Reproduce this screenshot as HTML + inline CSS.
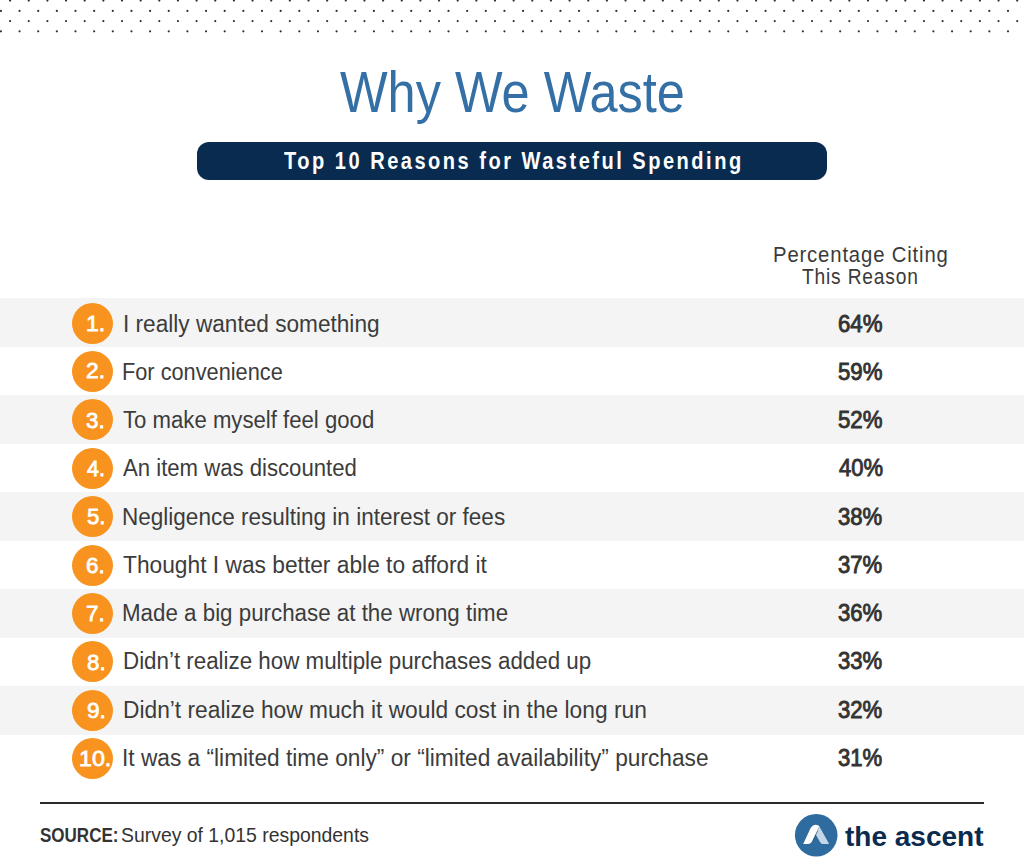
<!DOCTYPE html>
<html><head><meta charset="utf-8"><style>
*{margin:0;padding:0;box-sizing:border-box}
html,body{width:1024px;height:868px;background:#fff;overflow:hidden}
body{position:relative;font-family:"Liberation Sans",sans-serif}
.t{position:absolute;white-space:nowrap;transform-origin:0 0}
.band{position:absolute;left:0;width:1024px;background:#f4f4f4}
.circ{position:absolute;border-radius:50%;background:#f7931e}
#bar{position:absolute;left:196.6px;top:141.7px;width:630.3px;height:38.3px;border-radius:12px;background:#0a2b50}
#line{position:absolute;left:40px;top:802.2px;width:944px;height:1.7px;background:#2b2b2b}
</style></head><body>
<svg style="position:absolute;left:0;top:0" width="1024" height="40" fill="#333"><circle cx="10.10" cy="0.6" r="1.1"/><circle cx="28.75" cy="0.6" r="1.1"/><circle cx="47.40" cy="0.6" r="1.1"/><circle cx="66.05" cy="0.6" r="1.1"/><circle cx="84.70" cy="0.6" r="1.1"/><circle cx="103.35" cy="0.6" r="1.1"/><circle cx="122.00" cy="0.6" r="1.1"/><circle cx="140.65" cy="0.6" r="1.1"/><circle cx="159.30" cy="0.6" r="1.1"/><circle cx="177.95" cy="0.6" r="1.1"/><circle cx="196.60" cy="0.6" r="1.1"/><circle cx="215.25" cy="0.6" r="1.1"/><circle cx="233.90" cy="0.6" r="1.1"/><circle cx="252.55" cy="0.6" r="1.1"/><circle cx="271.20" cy="0.6" r="1.1"/><circle cx="289.85" cy="0.6" r="1.1"/><circle cx="308.50" cy="0.6" r="1.1"/><circle cx="327.15" cy="0.6" r="1.1"/><circle cx="345.80" cy="0.6" r="1.1"/><circle cx="364.45" cy="0.6" r="1.1"/><circle cx="383.10" cy="0.6" r="1.1"/><circle cx="401.75" cy="0.6" r="1.1"/><circle cx="420.40" cy="0.6" r="1.1"/><circle cx="439.05" cy="0.6" r="1.1"/><circle cx="457.70" cy="0.6" r="1.1"/><circle cx="476.35" cy="0.6" r="1.1"/><circle cx="495.00" cy="0.6" r="1.1"/><circle cx="513.65" cy="0.6" r="1.1"/><circle cx="532.30" cy="0.6" r="1.1"/><circle cx="550.95" cy="0.6" r="1.1"/><circle cx="569.60" cy="0.6" r="1.1"/><circle cx="588.25" cy="0.6" r="1.1"/><circle cx="606.90" cy="0.6" r="1.1"/><circle cx="625.55" cy="0.6" r="1.1"/><circle cx="644.20" cy="0.6" r="1.1"/><circle cx="662.85" cy="0.6" r="1.1"/><circle cx="681.50" cy="0.6" r="1.1"/><circle cx="700.15" cy="0.6" r="1.1"/><circle cx="718.80" cy="0.6" r="1.1"/><circle cx="737.45" cy="0.6" r="1.1"/><circle cx="756.10" cy="0.6" r="1.1"/><circle cx="774.75" cy="0.6" r="1.1"/><circle cx="793.40" cy="0.6" r="1.1"/><circle cx="812.05" cy="0.6" r="1.1"/><circle cx="830.70" cy="0.6" r="1.1"/><circle cx="849.35" cy="0.6" r="1.1"/><circle cx="868.00" cy="0.6" r="1.1"/><circle cx="886.65" cy="0.6" r="1.1"/><circle cx="905.30" cy="0.6" r="1.1"/><circle cx="923.95" cy="0.6" r="1.1"/><circle cx="942.60" cy="0.6" r="1.1"/><circle cx="961.25" cy="0.6" r="1.1"/><circle cx="979.90" cy="0.6" r="1.1"/><circle cx="998.55" cy="0.6" r="1.1"/><circle cx="1017.20" cy="0.6" r="1.1"/><circle cx="0.90" cy="10.9" r="1.1"/><circle cx="19.55" cy="10.9" r="1.1"/><circle cx="38.20" cy="10.9" r="1.1"/><circle cx="56.85" cy="10.9" r="1.1"/><circle cx="75.50" cy="10.9" r="1.1"/><circle cx="94.15" cy="10.9" r="1.1"/><circle cx="112.80" cy="10.9" r="1.1"/><circle cx="131.45" cy="10.9" r="1.1"/><circle cx="150.10" cy="10.9" r="1.1"/><circle cx="168.75" cy="10.9" r="1.1"/><circle cx="187.40" cy="10.9" r="1.1"/><circle cx="206.05" cy="10.9" r="1.1"/><circle cx="224.70" cy="10.9" r="1.1"/><circle cx="243.35" cy="10.9" r="1.1"/><circle cx="262.00" cy="10.9" r="1.1"/><circle cx="280.65" cy="10.9" r="1.1"/><circle cx="299.30" cy="10.9" r="1.1"/><circle cx="317.95" cy="10.9" r="1.1"/><circle cx="336.60" cy="10.9" r="1.1"/><circle cx="355.25" cy="10.9" r="1.1"/><circle cx="373.90" cy="10.9" r="1.1"/><circle cx="392.55" cy="10.9" r="1.1"/><circle cx="411.20" cy="10.9" r="1.1"/><circle cx="429.85" cy="10.9" r="1.1"/><circle cx="448.50" cy="10.9" r="1.1"/><circle cx="467.15" cy="10.9" r="1.1"/><circle cx="485.80" cy="10.9" r="1.1"/><circle cx="504.45" cy="10.9" r="1.1"/><circle cx="523.10" cy="10.9" r="1.1"/><circle cx="541.75" cy="10.9" r="1.1"/><circle cx="560.40" cy="10.9" r="1.1"/><circle cx="579.05" cy="10.9" r="1.1"/><circle cx="597.70" cy="10.9" r="1.1"/><circle cx="616.35" cy="10.9" r="1.1"/><circle cx="635.00" cy="10.9" r="1.1"/><circle cx="653.65" cy="10.9" r="1.1"/><circle cx="672.30" cy="10.9" r="1.1"/><circle cx="690.95" cy="10.9" r="1.1"/><circle cx="709.60" cy="10.9" r="1.1"/><circle cx="728.25" cy="10.9" r="1.1"/><circle cx="746.90" cy="10.9" r="1.1"/><circle cx="765.55" cy="10.9" r="1.1"/><circle cx="784.20" cy="10.9" r="1.1"/><circle cx="802.85" cy="10.9" r="1.1"/><circle cx="821.50" cy="10.9" r="1.1"/><circle cx="840.15" cy="10.9" r="1.1"/><circle cx="858.80" cy="10.9" r="1.1"/><circle cx="877.45" cy="10.9" r="1.1"/><circle cx="896.10" cy="10.9" r="1.1"/><circle cx="914.75" cy="10.9" r="1.1"/><circle cx="933.40" cy="10.9" r="1.1"/><circle cx="952.05" cy="10.9" r="1.1"/><circle cx="970.70" cy="10.9" r="1.1"/><circle cx="989.35" cy="10.9" r="1.1"/><circle cx="1008.00" cy="10.9" r="1.1"/><circle cx="10.10" cy="21.1" r="1.1"/><circle cx="28.75" cy="21.1" r="1.1"/><circle cx="47.40" cy="21.1" r="1.1"/><circle cx="66.05" cy="21.1" r="1.1"/><circle cx="84.70" cy="21.1" r="1.1"/><circle cx="103.35" cy="21.1" r="1.1"/><circle cx="122.00" cy="21.1" r="1.1"/><circle cx="140.65" cy="21.1" r="1.1"/><circle cx="159.30" cy="21.1" r="1.1"/><circle cx="177.95" cy="21.1" r="1.1"/><circle cx="196.60" cy="21.1" r="1.1"/><circle cx="215.25" cy="21.1" r="1.1"/><circle cx="233.90" cy="21.1" r="1.1"/><circle cx="252.55" cy="21.1" r="1.1"/><circle cx="271.20" cy="21.1" r="1.1"/><circle cx="289.85" cy="21.1" r="1.1"/><circle cx="308.50" cy="21.1" r="1.1"/><circle cx="327.15" cy="21.1" r="1.1"/><circle cx="345.80" cy="21.1" r="1.1"/><circle cx="364.45" cy="21.1" r="1.1"/><circle cx="383.10" cy="21.1" r="1.1"/><circle cx="401.75" cy="21.1" r="1.1"/><circle cx="420.40" cy="21.1" r="1.1"/><circle cx="439.05" cy="21.1" r="1.1"/><circle cx="457.70" cy="21.1" r="1.1"/><circle cx="476.35" cy="21.1" r="1.1"/><circle cx="495.00" cy="21.1" r="1.1"/><circle cx="513.65" cy="21.1" r="1.1"/><circle cx="532.30" cy="21.1" r="1.1"/><circle cx="550.95" cy="21.1" r="1.1"/><circle cx="569.60" cy="21.1" r="1.1"/><circle cx="588.25" cy="21.1" r="1.1"/><circle cx="606.90" cy="21.1" r="1.1"/><circle cx="625.55" cy="21.1" r="1.1"/><circle cx="644.20" cy="21.1" r="1.1"/><circle cx="662.85" cy="21.1" r="1.1"/><circle cx="681.50" cy="21.1" r="1.1"/><circle cx="700.15" cy="21.1" r="1.1"/><circle cx="718.80" cy="21.1" r="1.1"/><circle cx="737.45" cy="21.1" r="1.1"/><circle cx="756.10" cy="21.1" r="1.1"/><circle cx="774.75" cy="21.1" r="1.1"/><circle cx="793.40" cy="21.1" r="1.1"/><circle cx="812.05" cy="21.1" r="1.1"/><circle cx="830.70" cy="21.1" r="1.1"/><circle cx="849.35" cy="21.1" r="1.1"/><circle cx="868.00" cy="21.1" r="1.1"/><circle cx="886.65" cy="21.1" r="1.1"/><circle cx="905.30" cy="21.1" r="1.1"/><circle cx="923.95" cy="21.1" r="1.1"/><circle cx="942.60" cy="21.1" r="1.1"/><circle cx="961.25" cy="21.1" r="1.1"/><circle cx="979.90" cy="21.1" r="1.1"/><circle cx="998.55" cy="21.1" r="1.1"/><circle cx="1017.20" cy="21.1" r="1.1"/><circle cx="0.90" cy="31.3" r="1.1"/><circle cx="19.55" cy="31.3" r="1.1"/><circle cx="38.20" cy="31.3" r="1.1"/><circle cx="56.85" cy="31.3" r="1.1"/><circle cx="75.50" cy="31.3" r="1.1"/><circle cx="94.15" cy="31.3" r="1.1"/><circle cx="112.80" cy="31.3" r="1.1"/><circle cx="131.45" cy="31.3" r="1.1"/><circle cx="150.10" cy="31.3" r="1.1"/><circle cx="168.75" cy="31.3" r="1.1"/><circle cx="187.40" cy="31.3" r="1.1"/><circle cx="206.05" cy="31.3" r="1.1"/><circle cx="224.70" cy="31.3" r="1.1"/><circle cx="243.35" cy="31.3" r="1.1"/><circle cx="262.00" cy="31.3" r="1.1"/><circle cx="280.65" cy="31.3" r="1.1"/><circle cx="299.30" cy="31.3" r="1.1"/><circle cx="317.95" cy="31.3" r="1.1"/><circle cx="336.60" cy="31.3" r="1.1"/><circle cx="355.25" cy="31.3" r="1.1"/><circle cx="373.90" cy="31.3" r="1.1"/><circle cx="392.55" cy="31.3" r="1.1"/><circle cx="411.20" cy="31.3" r="1.1"/><circle cx="429.85" cy="31.3" r="1.1"/><circle cx="448.50" cy="31.3" r="1.1"/><circle cx="467.15" cy="31.3" r="1.1"/><circle cx="485.80" cy="31.3" r="1.1"/><circle cx="504.45" cy="31.3" r="1.1"/><circle cx="523.10" cy="31.3" r="1.1"/><circle cx="541.75" cy="31.3" r="1.1"/><circle cx="560.40" cy="31.3" r="1.1"/><circle cx="579.05" cy="31.3" r="1.1"/><circle cx="597.70" cy="31.3" r="1.1"/><circle cx="616.35" cy="31.3" r="1.1"/><circle cx="635.00" cy="31.3" r="1.1"/><circle cx="653.65" cy="31.3" r="1.1"/><circle cx="672.30" cy="31.3" r="1.1"/><circle cx="690.95" cy="31.3" r="1.1"/><circle cx="709.60" cy="31.3" r="1.1"/><circle cx="728.25" cy="31.3" r="1.1"/><circle cx="746.90" cy="31.3" r="1.1"/><circle cx="765.55" cy="31.3" r="1.1"/><circle cx="784.20" cy="31.3" r="1.1"/><circle cx="802.85" cy="31.3" r="1.1"/><circle cx="821.50" cy="31.3" r="1.1"/><circle cx="840.15" cy="31.3" r="1.1"/><circle cx="858.80" cy="31.3" r="1.1"/><circle cx="877.45" cy="31.3" r="1.1"/><circle cx="896.10" cy="31.3" r="1.1"/><circle cx="914.75" cy="31.3" r="1.1"/><circle cx="933.40" cy="31.3" r="1.1"/><circle cx="952.05" cy="31.3" r="1.1"/><circle cx="970.70" cy="31.3" r="1.1"/><circle cx="989.35" cy="31.3" r="1.1"/><circle cx="1008.00" cy="31.3" r="1.1"/></svg>
<div id="bar"></div>
<div class="band" style="top:297.70px;height:48.9px"></div><div class="circ" style="left:72.4px;top:302.70px;width:41px;height:41px"></div><div class="circ" style="left:72.4px;top:351.09px;width:41px;height:41px"></div><div class="band" style="top:394.78px;height:48.9px"></div><div class="circ" style="left:72.4px;top:399.48px;width:41px;height:41px"></div><div class="circ" style="left:72.4px;top:447.87px;width:41px;height:41px"></div><div class="band" style="top:491.86px;height:48.9px"></div><div class="circ" style="left:72.4px;top:496.26px;width:41px;height:41px"></div><div class="circ" style="left:72.4px;top:544.65px;width:41px;height:41px"></div><div class="band" style="top:588.94px;height:48.9px"></div><div class="circ" style="left:72.4px;top:593.04px;width:41px;height:41px"></div><div class="circ" style="left:72.4px;top:641.43px;width:41px;height:41px"></div><div class="band" style="top:686.02px;height:48.9px"></div><div class="circ" style="left:72.4px;top:689.82px;width:41px;height:41px"></div><div class="circ" style="left:72.4px;top:738.21px;width:41px;height:41px"></div>
<div id="line"></div>
<svg style="position:absolute;left:792px;top:810px" width="50" height="50" viewBox="0 0 50 50">
<circle cx="24.2" cy="25.2" r="21.3" fill="#2e6ca0"/>
<path d="M27.4 16.4 L36.9 33.4 Q37 34.1 36.2 34.1 L31.2 34.1 Q29.3 34.1 28.3 32.4 L23.8 24.4 Z" fill="#c5d7e6"/>
<path d="M25.6 20.8 L20.3 31.8" stroke="#15324f" stroke-width="1" opacity="0.55" fill="none"/>
<path d="M11.2 33.9 L18.4 18.6 Q20.2 14.8 24 14.7 Q26.3 14.7 27.4 16.2 L20 31.6 Q18.8 34 16.4 34 Z" fill="#fff"/>
</svg>
<div class="t" id="title" style="left:339.76px;top:59.25px;font-size:58px;font-weight:400;color:#3470a5;line-height:66px;letter-spacing:0px;transform:scaleX(0.8698)">Why We Waste</div>
<div class="t" id="bartxt" style="left:284.11px;top:146.75px;font-size:24px;font-weight:700;color:#fff;line-height:28px;letter-spacing:3px;transform:scaleX(0.8346)">Top 10 Reasons for Wasteful Spending</div>
<div class="t" id="hdr1" style="left:773.38px;top:242.75px;font-size:21.3px;font-weight:400;color:#3a3a3a;line-height:24px;letter-spacing:0.9px;transform:scaleX(0.9520)">Percentage Citing</div>
<div class="t" id="hdr2" style="left:802.42px;top:264.56px;font-size:21.3px;font-weight:400;color:#3a3a3a;line-height:24px;letter-spacing:0.9px;transform:scaleX(0.9011)">This Reason</div>
<div class="t" id="num1" style="left:85.60px;top:308.87px;font-size:22.9px;font-weight:400;color:#fff;line-height:28px;letter-spacing:0px;transform:scaleX(1.0044);-webkit-text-stroke:0.8px #fff">1.</div>
<div class="t" id="txt1" style="left:122.70px;top:309.03px;font-size:23px;font-weight:400;color:#3c3c3c;line-height:30px;letter-spacing:0px;transform:scaleX(0.9837)">I really wanted something</div>
<div class="t" id="pct1" style="left:838.43px;top:309.03px;font-size:23.6px;font-weight:400;color:#333;line-height:30px;letter-spacing:0px;transform:scaleX(0.9419);-webkit-text-stroke:0.9px #333">64%</div>
<div class="t" id="num2" style="left:85.94px;top:356.46px;font-size:22.9px;font-weight:400;color:#fff;line-height:28px;letter-spacing:0px;transform:scaleX(0.9940);-webkit-text-stroke:0.8px #fff">2.</div>
<div class="t" id="txt2" style="left:122.38px;top:357.04px;font-size:23px;font-weight:400;color:#3c3c3c;line-height:30px;letter-spacing:0px;transform:scaleX(0.9452)">For convenience</div>
<div class="t" id="pct2" style="left:838.31px;top:357.01px;font-size:23.6px;font-weight:400;color:#333;line-height:30px;letter-spacing:0px;transform:scaleX(0.9416);-webkit-text-stroke:0.9px #333">59%</div>
<div class="t" id="num3" style="left:86.09px;top:405.67px;font-size:22.9px;font-weight:400;color:#fff;line-height:28px;letter-spacing:0px;transform:scaleX(0.9741);-webkit-text-stroke:0.8px #fff">3.</div>
<div class="t" id="txt3" style="left:122.86px;top:405.03px;font-size:23px;font-weight:400;color:#3c3c3c;line-height:30px;letter-spacing:0px;transform:scaleX(0.9632)">To make myself feel good</div>
<div class="t" id="pct3" style="left:838.31px;top:405.03px;font-size:23.6px;font-weight:400;color:#333;line-height:30px;letter-spacing:0px;transform:scaleX(0.9416);-webkit-text-stroke:0.9px #333">52%</div>
<div class="t" id="num4" style="left:87.32px;top:454.07px;font-size:22.9px;font-weight:400;color:#fff;line-height:28px;letter-spacing:0px;transform:scaleX(0.9387);-webkit-text-stroke:0.8px #fff">4.</div>
<div class="t" id="txt4" style="left:123.10px;top:453.03px;font-size:23px;font-weight:400;color:#3c3c3c;line-height:30px;letter-spacing:0px;transform:scaleX(0.9626)">An item was discounted</div>
<div class="t" id="pct4" style="left:839.21px;top:453.02px;font-size:23.6px;font-weight:400;color:#333;line-height:30px;letter-spacing:0px;transform:scaleX(0.9318);-webkit-text-stroke:0.9px #333">40%</div>
<div class="t" id="num5" style="left:86.85px;top:502.47px;font-size:22.9px;font-weight:400;color:#fff;line-height:28px;letter-spacing:0px;transform:scaleX(0.9697);-webkit-text-stroke:0.8px #fff">5.</div>
<div class="t" id="txt5" style="left:122.13px;top:502.04px;font-size:23px;font-weight:400;color:#3c3c3c;line-height:30px;letter-spacing:0px;transform:scaleX(0.9794)">Negligence resulting in interest or fees</div>
<div class="t" id="pct5" style="left:838.30px;top:502.01px;font-size:23.6px;font-weight:400;color:#333;line-height:30px;letter-spacing:0px;transform:scaleX(0.9370);-webkit-text-stroke:0.9px #333">38%</div>
<div class="t" id="num6" style="left:86.17px;top:550.88px;font-size:22.9px;font-weight:400;color:#fff;line-height:28px;letter-spacing:0px;transform:scaleX(0.9790);-webkit-text-stroke:0.8px #fff">6.</div>
<div class="t" id="txt6" style="left:122.86px;top:550.02px;font-size:23px;font-weight:400;color:#3c3c3c;line-height:30px;letter-spacing:0px;transform:scaleX(0.9894)">Thought I was better able to afford it</div>
<div class="t" id="pct6" style="left:838.30px;top:550.03px;font-size:23.6px;font-weight:400;color:#333;line-height:30px;letter-spacing:0px;transform:scaleX(0.9370);-webkit-text-stroke:0.9px #333">37%</div>
<div class="t" id="num7" style="left:85.70px;top:599.27px;font-size:22.9px;font-weight:400;color:#fff;line-height:28px;letter-spacing:0px;transform:scaleX(0.9769);-webkit-text-stroke:0.8px #fff">7.</div>
<div class="t" id="txt7" style="left:121.54px;top:598.04px;font-size:23px;font-weight:400;color:#3c3c3c;line-height:30px;letter-spacing:0px;transform:scaleX(0.9711)">Made a big purchase at the wrong time</div>
<div class="t" id="pct7" style="left:838.30px;top:598.01px;font-size:23.6px;font-weight:400;color:#333;line-height:30px;letter-spacing:0px;transform:scaleX(0.9370);-webkit-text-stroke:0.9px #333">36%</div>
<div class="t" id="num8" style="left:86.65px;top:647.67px;font-size:22.9px;font-weight:400;color:#fff;line-height:28px;letter-spacing:0px;transform:scaleX(0.9749);-webkit-text-stroke:0.8px #fff">8.</div>
<div class="t" id="txt8" style="left:122.74px;top:646.03px;font-size:23px;font-weight:400;color:#3c3c3c;line-height:30px;letter-spacing:0px;transform:scaleX(0.9713)">Didn’t realize how multiple purchases added up</div>
<div class="t" id="pct8" style="left:838.30px;top:646.03px;font-size:23.6px;font-weight:400;color:#333;line-height:30px;letter-spacing:0px;transform:scaleX(0.9370);-webkit-text-stroke:0.9px #333">33%</div>
<div class="t" id="num9" style="left:86.70px;top:696.07px;font-size:22.9px;font-weight:400;color:#fff;line-height:28px;letter-spacing:0px;transform:scaleX(0.9864);-webkit-text-stroke:0.8px #fff">9.</div>
<div class="t" id="txt9" style="left:122.62px;top:695.03px;font-size:23px;font-weight:400;color:#3c3c3c;line-height:30px;letter-spacing:0px;transform:scaleX(0.9897)">Didn’t realize how much it would cost in the long run</div>
<div class="t" id="pct9" style="left:838.30px;top:695.03px;font-size:23.6px;font-weight:400;color:#333;line-height:30px;letter-spacing:0px;transform:scaleX(0.9370);-webkit-text-stroke:0.9px #333">32%</div>
<div class="t" id="num10" style="left:79.15px;top:744.47px;font-size:22.9px;font-weight:400;color:#fff;line-height:28px;letter-spacing:0px;transform:scaleX(1.0159);-webkit-text-stroke:0.8px #fff">10.</div>
<div class="t" id="txt10" style="left:122.30px;top:743.04px;font-size:23px;font-weight:400;color:#3c3c3c;line-height:30px;letter-spacing:0px;transform:scaleX(0.9868)">It was a “limited time only” or “limited availability” purchase</div>
<div class="t" id="pct10" style="left:838.30px;top:743.01px;font-size:23.6px;font-weight:400;color:#333;line-height:30px;letter-spacing:0px;transform:scaleX(0.9370);-webkit-text-stroke:0.9px #333">31%</div>
<div class="t" id="src1" style="left:40.03px;top:821.85px;font-size:21px;font-weight:700;color:#333;line-height:26px;letter-spacing:0px;transform:scaleX(0.8101)">SOURCE:</div>
<div class="t" id="src2" style="left:121.46px;top:821.85px;font-size:21px;font-weight:400;color:#333;line-height:26px;letter-spacing:0px;transform:scaleX(0.9236)">Survey of 1,015 respondents</div>
<div class="t" id="brand" style="left:845.22px;top:820.86px;font-size:28px;font-weight:700;color:#0b2b4e;line-height:32px;letter-spacing:0px;transform:scaleX(1.0001)">the ascent</div>
</body></html>
